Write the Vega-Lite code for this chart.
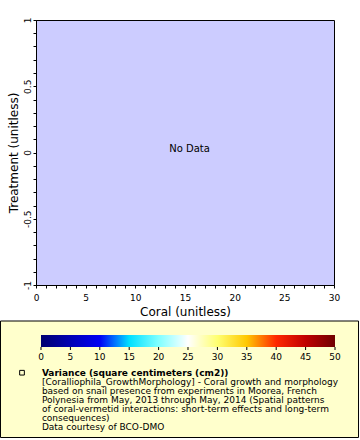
{
  "$schema": "https://vega.github.io/schema/vega-lite/v6.json",
  "width": 298,
  "height": 265,
  "autosize": {"type": "none"},
  "padding": {"left": 36, "top": 20, "right": 26, "bottom": 155},
  "background": "white",
  "config": {
    "font": "DejaVu Sans",
    "view": {"fill": "#ccccff", "stroke": "black", "strokeWidth": 1},
    "axis": {
      "labelFont": "DejaVu Sans",
      "titleFont": "DejaVu Sans",
      "labelColor": "black",
      "titleColor": "black",
      "tickColor": "black",
      "domainColor": "black",
      "grid": false,
      "labelFontSize": 9,
      "titleFontSize": 12,
      "titleFontWeight": "normal",
      "tickSize": 3,
      "labelFlush": false,
      "labelOverlap": false
    }
  },
  "datasets": {
    "noData": [{"coral": 15, "treatment": 0, "message": "No Data"}],
    "colorbarTicks": [
      {"variance": 0}, {"variance": 5}, {"variance": 10}, {"variance": 15}, {"variance": 20}, {"variance": 25},
      {"variance": 30}, {"variance": 35}, {"variance": 40}, {"variance": 45}, {"variance": 50}
    ],
    "legendTitle": [{"line": 1, "text": "Variance (square centimeters (cm2))"}],
    "legendLines": [
      {"line": 2, "text": "[Coralliophila_GrowthMorphology] - Coral growth and morphology"},
      {"line": 3, "text": "based on snail presence from experiments in Moorea, French"},
      {"line": 4, "text": "Polynesia from May, 2013 through May, 2014 (Spatial patterns"},
      {"line": 5, "text": "of coral-vermetid interactions: short-term effects and long-term"},
      {"line": 6, "text": "consequences)"},
      {"line": 7, "text": "Data courtesy of BCO-DMO"}
    ]
  },
  "layer": [
    {
      "data": {"name": "noData"},
      "mark": {"type": "text", "fontSize": 10, "color": "black", "dx": 4.5, "dy": -4},
      "encoding": {
        "x": {
          "field": "coral",
          "type": "quantitative",
          "scale": {"domain": [0, 30], "nice": false, "zero": false},
          "axis": {
            "title": "Coral (unitless)",
            "values": [0,1,2,3,4,5,6,7,8,9,10,11,12,13,14,15,16,17,18,19,20,21,22,23,24,25,26,27,28,29,30],
            "labelExpr": "datum.value % 5 == 0 ? '' + datum.value : ''",
            "labelPadding": 5,
            "titlePadding": 4,
            "zindex": 1
          }
        },
        "y": {
          "field": "treatment",
          "type": "quantitative",
          "scale": {"domain": [-1, 1], "nice": false, "zero": false},
          "axis": {
            "title": "Treatment (unitless)",
            "values": [-1,-0.9,-0.8,-0.7,-0.6,-0.5,-0.4,-0.3,-0.2,-0.1,0,0.1,0.2,0.3,0.4,0.5,0.6,0.7,0.8,0.9,1],
            "labelExpr": "abs(datum.value * 2 - round(datum.value * 2)) < 0.000001 ? '' + datum.value : ''",
            "labelAngle": -90,
            "labelPadding": 1,
            "titlePadding": 3,
            "zindex": 1
          }
        },
        "text": {"field": "message"}
      }
    },
    {
      "layer": [
        {
          "data": {"name": "legendTitle"},
          "mark": {"type": "rect", "fill": "#ffffcc", "stroke": "black", "strokeWidth": 1},
          "encoding": {
            "x": {"datum": -6.888, "type": "quantitative", "scale": {"domain": [-0.8503, 49.8299], "nice": false, "zero": false}, "axis": null},
            "x2": {"datum": 54.0},
            "y": {"datum": -4.745, "type": "quantitative", "scale": {"domain": [-38.189, -8.745], "nice": false, "zero": false, "reverse": true}, "axis": null},
            "y2": {"datum": 8.2}
          }
        },
        {
          "data": {"name": "legendTitle"},
          "mark": {
            "type": "rect",
            "fill": {
              "gradient": "linear",
              "x1": 0, "y1": 0, "x2": 1, "y2": 0,
              "stops": [
                {"offset": 0, "color": "#000070"},
                {"offset": 0.1, "color": "#0000b4"},
                {"offset": 0.2, "color": "#0000f5"},
                {"offset": 0.25, "color": "#0070ff"},
                {"offset": 0.3, "color": "#00e0ff"},
                {"offset": 0.4, "color": "#80ffff"},
                {"offset": 0.5, "color": "#ffffff"},
                {"offset": 0.6, "color": "#ffff70"},
                {"offset": 0.7, "color": "#ffc800"},
                {"offset": 0.8, "color": "#ff2800"},
                {"offset": 0.9, "color": "#c00000"},
                {"offset": 1, "color": "#700000"}
              ]
            }
          },
          "encoding": {
            "x": {"datum": 0, "type": "quantitative", "axis": null},
            "x2": {"datum": 50},
            "y": {"datum": -3.189, "type": "quantitative", "axis": null},
            "y2": {"datum": -1.856}
          }
        },
        {
          "data": {"name": "colorbarTicks"},
          "mark": {"type": "rule", "color": "black", "strokeWidth": 1},
          "encoding": {
            "x": {"field": "variance", "type": "quantitative", "axis": null},
            "y": {"datum": -1.856, "type": "quantitative", "axis": null},
            "y2": {"datum": -1.52}
          }
        },
        {
          "data": {"name": "colorbarTicks"},
          "mark": {"type": "text", "align": "center", "baseline": "middle", "fontSize": 9, "color": "black"},
          "encoding": {
            "x": {"field": "variance", "type": "quantitative", "axis": null},
            "y": {"datum": -0.78, "type": "quantitative", "axis": null},
            "text": {"field": "variance", "type": "quantitative"}
          }
        },
        {
          "data": {"name": "legendTitle"},
          "mark": {"type": "point", "shape": "square", "filled": false, "stroke": "black", "strokeWidth": 1, "size": 22, "opacity": 1},
          "encoding": {
            "x": {"datum": -3.231, "type": "quantitative", "axis": null},
            "y": {"field": "line", "type": "quantitative", "axis": null}
          }
        },
        {
          "data": {"name": "legendTitle"},
          "mark": {"type": "text", "align": "left", "baseline": "middle", "fontSize": 9, "fontWeight": "bold", "color": "black"},
          "encoding": {
            "x": {"datum": 0.15, "type": "quantitative", "axis": null},
            "y": {"field": "line", "type": "quantitative", "axis": null},
            "text": {"field": "text"}
          }
        },
        {
          "data": {"name": "legendLines"},
          "mark": {"type": "text", "align": "left", "baseline": "middle", "fontSize": 9, "color": "black"},
          "encoding": {
            "x": {"datum": 0.15, "type": "quantitative", "axis": null},
            "y": {"field": "line", "type": "quantitative", "axis": null},
            "text": {"field": "text"}
          }
        }
      ]
    }
  ],
  "resolve": {"scale": {"x": "independent", "y": "independent"}}
}
